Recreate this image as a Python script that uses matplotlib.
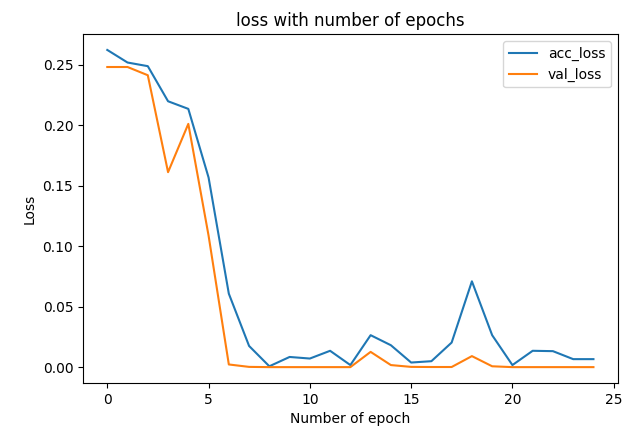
import matplotlib
matplotlib.use('Agg')
import matplotlib.pyplot as plt

epochs = list(range(25))
acc_loss = [0.2624, 0.252, 0.249, 0.220, 0.2137, 0.157, 0.061, 0.0178, 0.001, 0.0087,
            0.0074, 0.0138, 0.002, 0.0267, 0.0184, 0.0041, 0.0052, 0.0206, 0.0712, 0.0267,
            0.002, 0.0138, 0.0135, 0.0069, 0.0069]
val_loss = [0.2483, 0.2483, 0.2415, 0.1614, 0.2013, 0.109, 0.0025, 0.0005, 0.0003, 0.0003,
            0.0003, 0.0003, 0.0003, 0.0129, 0.002, 0.0005, 0.0004, 0.0004, 0.0094, 0.001,
            0.0003, 0.0003, 0.0003, 0.0003, 0.0003]

fig = plt.figure(figsize=(6.31, 4.37), dpi=100)
ax = fig.add_axes([0.1315, 0.1236, 0.8475, 0.7984])
ax.plot(epochs, acc_loss, label='acc_loss')
ax.plot(epochs, val_loss, label='val_loss')
ax.set_title('loss with number of epochs')
ax.set_xlabel('Number of epoch')
ax.set_ylabel('Loss')
ax.legend()
fig.savefig('out.png', dpi=100)
